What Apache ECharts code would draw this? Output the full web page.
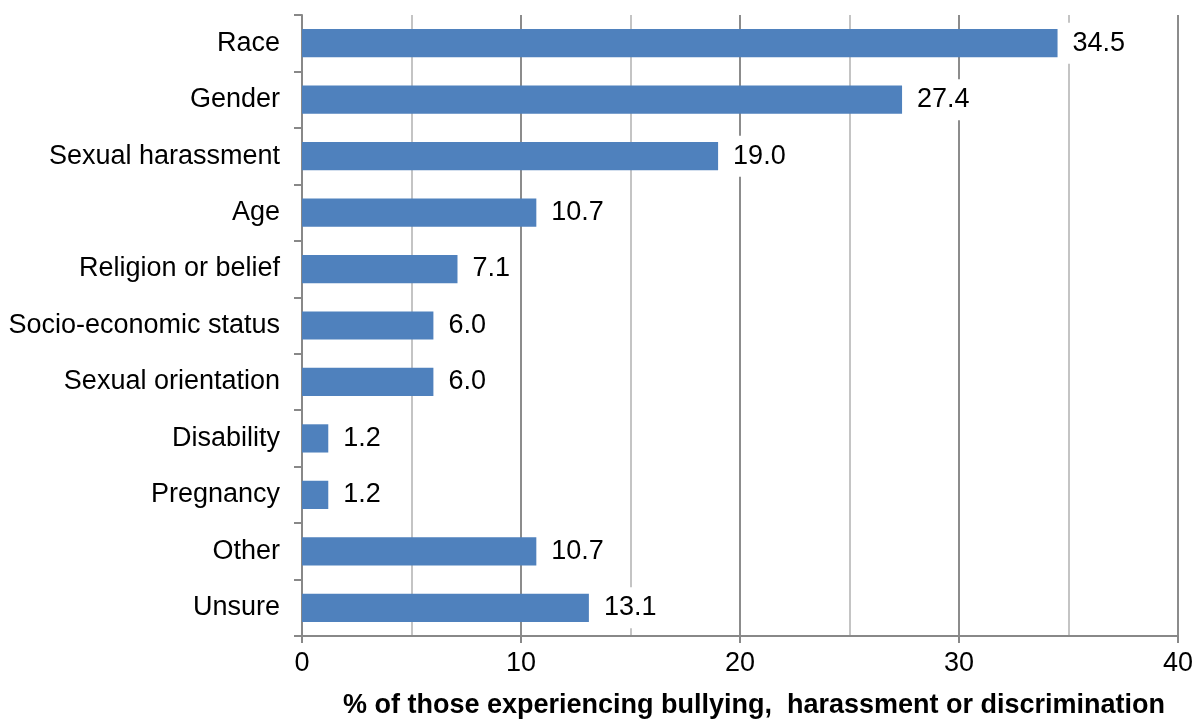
<!DOCTYPE html>
<html>
<head>
<meta charset="utf-8">
<script src="https://cdn.jsdelivr.net/npm/echarts@6/dist/echarts.min.js"></script>
<style>
  html, body { margin: 0; padding: 0; background: #fff; }
  #main { width: 1202px; height: 720px; }
</style>
</head>
<body>
<div id="main"></div>
<script>
const categories = ['Race', 'Gender', 'Sexual harassment', 'Age', 'Religion or belief',
  'Socio-economic status', 'Sexual orientation', 'Disability', 'Pregnancy', 'Other', 'Unsure'];
const values = [34.5, 27.4, 19.0, 10.7, 7.1, 6.0, 6.0, 1.2, 1.2, 10.7, 13.1];
const xTicks = [0, 10, 20, 30, 40];

const myChart = echarts.init(document.getElementById('main'));
const font = 'Liberation Sans, Arial, sans-serif';

const option = {
  animation: false,
  grid: { left: 302, right: 24, top: 15, bottom: 84, containLabel: false, outerBoundsMode: 'none' },
  xAxis: {
    type: 'value',
    min: xTicks[0],
    max: xTicks[xTicks.length - 1],
    interval: 10,
    name: '% of those experiencing bullying,  harassment or discrimination',
    nameLocation: 'middle',
    nameGap: 56,
    nameTextStyle: { fontFamily: font, fontSize: 27, fontWeight: 'bold', color: '#000', padding: [0, 0, 0, 28] },
    axisLine: { show: true, lineStyle: { color: '#888', width: 2 } },
    axisTick: { show: true, length: 7, lineStyle: { color: '#888', width: 2 } },
    axisLabel: { fontFamily: font, fontSize: 27, color: '#000', margin: 14 },
    splitLine: { show: true, lineStyle: { color: '#8c8c8c', width: 2 } },
    minorTick: { show: false, splitNumber: 2 },
    minorSplitLine: { show: true, lineStyle: { color: '#c4c4c4', width: 2 } }
  },
  yAxis: {
    type: 'category',
    data: categories,
    inverse: true,
    axisLine: { show: true, lineStyle: { color: '#888', width: 2 } },
    axisTick: { show: true, length: 8, lineStyle: { color: '#888', width: 2 } },
    axisLabel: { fontFamily: font, fontSize: 27, color: '#000', margin: 22 },
    splitLine: { show: false }
  },
  series: [
    {
      type: 'bar',
      data: values,
      barWidth: '50%',
      itemStyle: { color: '#4f81bd' },
      label: {
        show: true,
        position: 'right',
        distance: 5,
        fontFamily: font,
        fontSize: 27,
        color: '#000',
        backgroundColor: '#fff',
        padding: [7, 6, 7, 10],
        formatter: p => p.value.toFixed(1)
      }
    }
  ]
};
myChart.setOption(option);
</script>
</body>
</html>
